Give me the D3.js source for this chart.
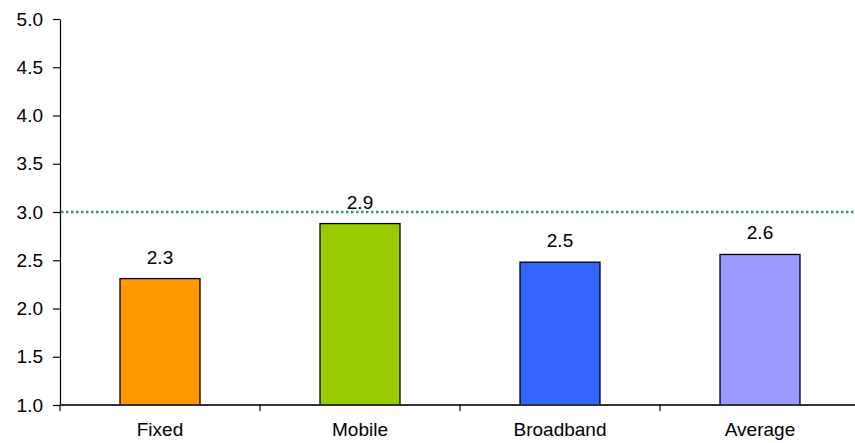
<!DOCTYPE html>
<html>
<head>
<meta charset="utf-8">
<script src="https://cdn.jsdelivr.net/npm/d3@7"></script>
<style>
  html, body { margin: 0; padding: 0; background: #fff; }
  svg { display: block; font-family: "Liberation Sans", Arial, sans-serif; }
</style>
</head>
<body>
<svg id="chart" width="855" height="443"></svg>
<script>
const categories = ["Fixed", "Mobile", "Broadband", "Average"];
const values = [2.31, 2.88, 2.48, 2.56];
const barColors = ["#FF9900", "#99CC00", "#3366FF", "#9999FF"];
const yTicks = [1.0, 1.5, 2.0, 2.5, 3.0, 3.5, 4.0, 4.5, 5.0];
const targetValue = 3.0;

const svg = d3.select("#chart");
const mLeft = 60, mRight = 860, mTop = 19, mBottom = 405;
const fontSize = 19;

const x = d3.scaleBand().domain(categories).range([mLeft, mRight])
  .paddingInner(0.6).paddingOuter(0.3);
const y = d3.scaleLinear().domain([1, 5]).range([mBottom, mTop]);

// bars
svg.append("g").selectAll("rect").data(categories).join("rect")
  .attr("x", d => x(d))
  .attr("y", (d, i) => y(values[i]))
  .attr("width", x.bandwidth())
  .attr("height", (d, i) => y(1) - y(values[i]))
  .attr("fill", (d, i) => barColors[i])
  .attr("stroke", "#000")
  .attr("stroke-width", 1.3);

// value labels
svg.append("g").selectAll("text").data(categories).join("text")
  .attr("x", d => x(d) + x.bandwidth() / 2)
  .attr("y", (d, i) => y(values[i]) - 15)
  .attr("text-anchor", "middle")
  .attr("font-size", fontSize)
  .attr("fill", "#000")
  .text((d, i) => d3.format(".1f")(values[i]));

// y axis
const yAxis = svg.append("g").attr("transform", `translate(${mLeft},0)`)
  .call(d3.axisLeft(y).tickValues(yTicks).tickFormat(d3.format(".1f"))
    .tickSize(7).tickSizeOuter(0).tickPadding(10));
yAxis.selectAll("text").attr("font-size", fontSize).attr("fill", "#000")
  .attr("font-family", "Liberation Sans, Arial, sans-serif");
yAxis.selectAll("line,path").attr("stroke", "#000").attr("stroke-width", 1.2);

// x axis
const step = x.step();
const gap = step - x.bandwidth();
const xAxis = svg.append("g").attr("transform", `translate(0,${mBottom})`)
  .call(d3.axisBottom(x).tickSize(0).tickSizeOuter(0).tickPadding(18));
xAxis.select(".domain").remove();
xAxis.append("line").attr("x1", mLeft).attr("x2", 855).attr("y1", 0).attr("y2", 0)
  .attr("stroke", "#333").attr("stroke-width", 2);
xAxis.selectAll(".tick text").attr("font-size", fontSize).attr("fill", "#000")
  .attr("font-family", "Liberation Sans, Arial, sans-serif");
const boundaries = categories.map(c => x(c) - gap / 2).concat([x(categories[categories.length - 1]) + x.bandwidth() + gap / 2]);
xAxis.selectAll(".bt").data(boundaries).join("line").attr("class", "bt")
  .attr("x1", d => d).attr("x2", d => d).attr("y1", 0).attr("y2", 6)
  .attr("stroke", "#000").attr("stroke-width", 1.2);

// target dotted line
svg.append("line")
  .attr("x1", mLeft + 1).attr("x2", 855)
  .attr("y1", y(targetValue)).attr("y2", y(targetValue))
  .attr("stroke", "#339966").attr("stroke-width", 2.5)
  .attr("stroke-dasharray", "2.5,2.5");
</script>
</body>
</html>
